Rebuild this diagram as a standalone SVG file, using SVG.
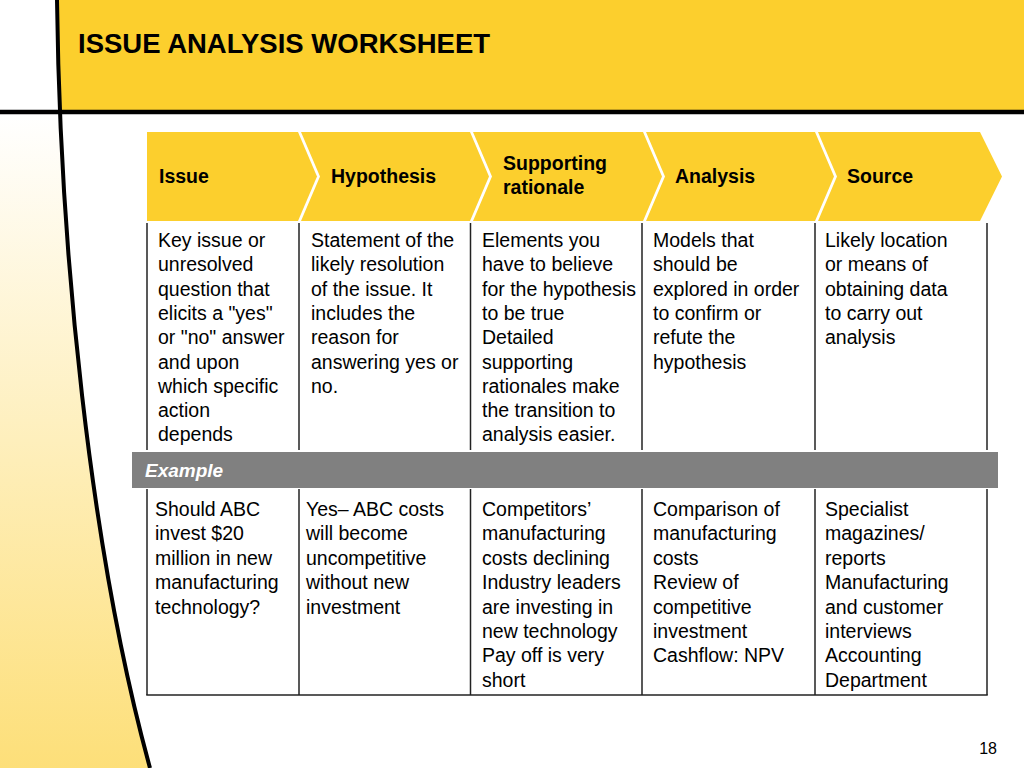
<svg xmlns="http://www.w3.org/2000/svg" width="1024" height="768" viewBox="0 0 1024 768">
<defs>
<linearGradient id="side" x1="0" y1="0" x2="0" y2="1">
<stop offset="0" stop-color="#FFFFFF"/>
<stop offset="1" stop-color="#FDDF79"/>
</linearGradient>
</defs>
<style>
.hd{font-family:"Liberation Sans",Arial,sans-serif;font-weight:bold;font-size:19.5px;fill:#000}
.bd{font-family:"Liberation Sans",Arial,sans-serif;font-size:19.5px;fill:#000}
.chev{fill:#FCCF2D}
.vl{stroke:#222;stroke-width:1.5;fill:none}
</style>
<rect width="1024" height="768" fill="#FFFFFF"/>
<rect x="0" y="114" width="170" height="654" fill="url(#side)"/>
<path d="M57,0 C60,250 90,550 150,768 L200,768 L200,0 Z" fill="#FFFFFF"/>
<rect x="58" y="0" width="966" height="111" fill="#FCCF2D"/>
<path d="M57,0 C60,250 90,550 150,768" fill="none" stroke="#000" stroke-width="4"/>
<line x1="0" y1="112" x2="1024" y2="112" stroke="#000" stroke-width="4.5"/>
<text x="78" y="53" font-family="Liberation Sans,Arial,sans-serif" font-weight="bold" font-size="27.5" fill="#000">ISSUE ANALYSIS WORKSHEET</text>

<g id="header-issue">
<polygon class="chev" points="147,132 298,132 317,176.5 298,221 147,221"/>
<text class="hd" x="159" y="183">Issue</text>
</g>
<g id="header-hypothesis">
<polygon class="chev" points="301,132 470,132 489,176.5 470,221 301,221 320,176.5"/>
<text class="hd" x="331" y="183">Hypothesis</text>
</g>
<g id="header-rationale">
<polygon class="chev" points="473,132 643,132 662,176.5 643,221 473,221 492,176.5"/>
<text class="hd" x="503" y="170">Supporting<tspan x="503" dy="24">rationale</tspan></text>
</g>
<g id="header-analysis">
<polygon class="chev" points="646,132 815,132 834,176.5 815,221 646,221 665,176.5"/>
<text class="hd" x="675" y="183">Analysis</text>
</g>
<g id="header-source">
<polygon class="chev" points="818,132 980,132 1002,176.5 980,221 818,221 837,176.5"/>
<text class="hd" x="847" y="183">Source</text>
</g>

<g id="grid">
<line class="vl" x1="147" y1="223" x2="147" y2="450"/>
<line class="vl" x1="299" y1="223" x2="299" y2="450"/>
<line class="vl" x1="470.5" y1="223" x2="470.5" y2="450"/>
<line class="vl" x1="642" y1="223" x2="642" y2="450"/>
<line class="vl" x1="815" y1="223" x2="815" y2="450"/>
<line class="vl" x1="987" y1="223" x2="987" y2="450"/>
<line class="vl" x1="147" y1="489" x2="147" y2="695"/>
<line class="vl" x1="299" y1="489" x2="299" y2="695"/>
<line class="vl" x1="470.5" y1="489" x2="470.5" y2="695"/>
<line class="vl" x1="642" y1="489" x2="642" y2="695"/>
<line class="vl" x1="815" y1="489" x2="815" y2="695"/>
<line class="vl" x1="987" y1="489" x2="987" y2="695"/>
<line class="vl" x1="146.25" y1="695" x2="987.75" y2="695"/>
</g>

<g id="cell-issue-def">
<text class="bd" x="158" y="247">Key issue or<tspan x="158" dy="24.3">unresolved</tspan><tspan x="158" dy="24.3">question that</tspan><tspan x="158" dy="24.3">elicits a "yes"</tspan><tspan x="158" dy="24.3">or "no" answer</tspan><tspan x="158" dy="24.3">and upon</tspan><tspan x="158" dy="24.3">which specific</tspan><tspan x="158" dy="24.3">action</tspan><tspan x="158" dy="24.3">depends</tspan></text>
</g>
<g id="cell-hypothesis-def">
<text class="bd" x="311" y="247">Statement of the<tspan x="311" dy="24.3">likely resolution</tspan><tspan x="311" dy="24.3">of the issue. It</tspan><tspan x="311" dy="24.3">includes the</tspan><tspan x="311" dy="24.3">reason for</tspan><tspan x="311" dy="24.3">answering yes or</tspan><tspan x="311" dy="24.3">no.</tspan></text>
</g>
<g id="cell-rationale-def">
<text class="bd" x="482" y="247">Elements you<tspan x="482" dy="24.3">have to believe</tspan><tspan x="482" dy="24.3">for the hypothesis</tspan><tspan x="482" dy="24.3">to be true</tspan><tspan x="482" dy="24.3">Detailed</tspan><tspan x="482" dy="24.3">supporting</tspan><tspan x="482" dy="24.3">rationales make</tspan><tspan x="482" dy="24.3">the transition to</tspan><tspan x="482" dy="24.3">analysis easier.</tspan></text>
</g>
<g id="cell-analysis-def">
<text class="bd" x="653" y="247">Models that<tspan x="653" dy="24.3">should be</tspan><tspan x="653" dy="24.3">explored in order</tspan><tspan x="653" dy="24.3">to confirm or</tspan><tspan x="653" dy="24.3">refute the</tspan><tspan x="653" dy="24.3">hypothesis</tspan></text>
</g>
<g id="cell-source-def">
<text class="bd" x="825" y="247">Likely location<tspan x="825" dy="24.3">or means of</tspan><tspan x="825" dy="24.3">obtaining data</tspan><tspan x="825" dy="24.3">to carry out</tspan><tspan x="825" dy="24.3">analysis</tspan></text>
</g>

<g id="example-bar">
<rect x="132" y="452" width="866" height="36" fill="#808080"/>
<text x="145" y="477" font-family="Liberation Sans,Arial,sans-serif" font-weight="bold" font-style="italic" font-size="19" fill="#FFFFFF">Example</text>
</g>

<g id="cell-issue-ex">
<text class="bd" x="155" y="516">Should ABC<tspan x="155" dy="24.4">invest $20</tspan><tspan x="155" dy="24.4">million in new</tspan><tspan x="155" dy="24.4">manufacturing</tspan><tspan x="155" dy="24.4">technology?</tspan></text>
</g>
<g id="cell-hypothesis-ex">
<text class="bd" x="306" y="516">Yes– ABC costs<tspan x="306" dy="24.4">will become</tspan><tspan x="306" dy="24.4">uncompetitive</tspan><tspan x="306" dy="24.4">without new</tspan><tspan x="306" dy="24.4">investment</tspan></text>
</g>
<g id="cell-rationale-ex">
<text class="bd" x="482" y="516">Competitors’<tspan x="482" dy="24.4">manufacturing</tspan><tspan x="482" dy="24.4">costs declining</tspan><tspan x="482" dy="24.4">Industry leaders</tspan><tspan x="482" dy="24.4">are investing in</tspan><tspan x="482" dy="24.4">new technology</tspan><tspan x="482" dy="24.4">Pay off is very</tspan><tspan x="482" dy="24.4">short</tspan></text>
</g>
<g id="cell-analysis-ex">
<text class="bd" x="653" y="516">Comparison of<tspan x="653" dy="24.4">manufacturing</tspan><tspan x="653" dy="24.4">costs</tspan><tspan x="653" dy="24.4">Review of</tspan><tspan x="653" dy="24.4">competitive</tspan><tspan x="653" dy="24.4">investment</tspan><tspan x="653" dy="24.4">Cashflow: NPV</tspan></text>
</g>
<g id="cell-source-ex">
<text class="bd" x="825" y="516">Specialist<tspan x="825" dy="24.4">magazines/</tspan><tspan x="825" dy="24.4">reports</tspan><tspan x="825" dy="24.4">Manufacturing</tspan><tspan x="825" dy="24.4">and customer</tspan><tspan x="825" dy="24.4">interviews</tspan><tspan x="825" dy="24.4">Accounting</tspan><tspan x="825" dy="24.4">Department</tspan></text>
</g>

<text x="997" y="754" text-anchor="end" font-family="Liberation Sans,Arial,sans-serif" font-size="16" fill="#000">18</text>
</svg>
